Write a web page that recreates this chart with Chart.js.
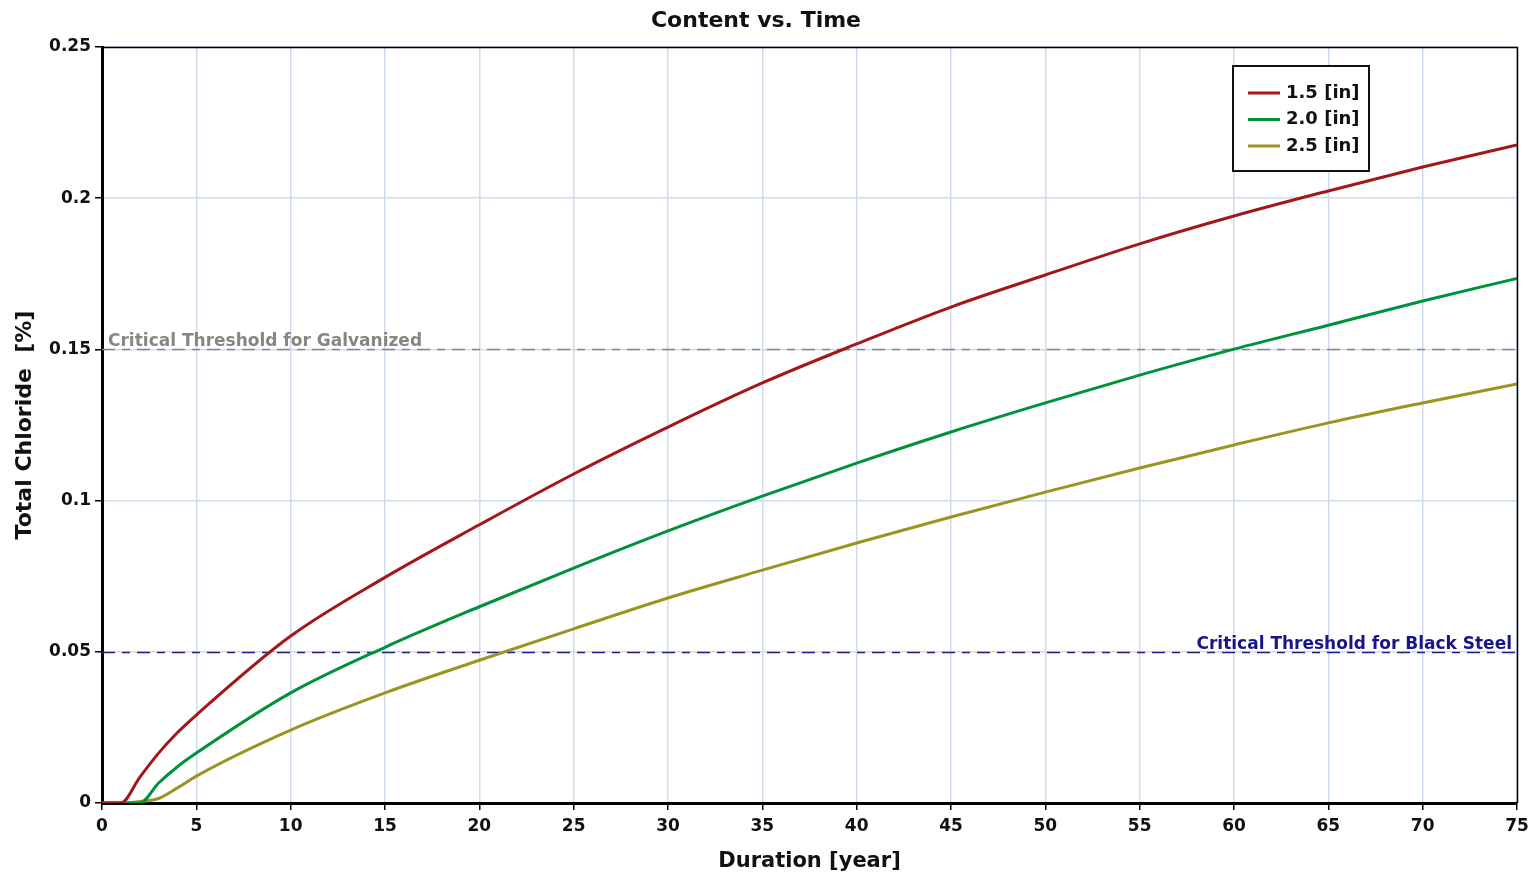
<!DOCTYPE html>
<html>
<head>
<meta charset="utf-8">
<script src="https://cdn.jsdelivr.net/npm/chart.js@4/dist/chart.umd.min.js"></script>
<style>
html,body{margin:0;padding:0;background:#fff;}
#wrap{width:1538px;height:878px;position:relative;}
</style>
</head>
<body>
<div id="wrap"><canvas id="c" width="1538" height="878"></canvas></div>
<script>
const years = [0,1,2,3,4,5,10,15,20,25,30,35,40,45,50,55,60,65,70,75];
const cover15 = [0,0,0.0085,0.0165,0.0233,0.0291,0.0552,0.0746,0.0920,0.1088,0.1243,0.1389,0.1518,0.1640,0.1746,0.1849,0.1941,0.2024,0.2103,0.2176];
const cover20 = [0,0,0,0.0066,0.0120,0.0165,0.0364,0.0515,0.0649,0.0777,0.0900,0.1015,0.1124,0.1227,0.1323,0.1415,0.1501,0.1580,0.1660,0.1735];
const cover25 = [0,0,0.0005,0.0015,0.0050,0.0089,0.0241,0.0364,0.0472,0.0576,0.0678,0.0770,0.0860,0.0946,0.1028,0.1108,0.1184,0.1257,0.1323,0.1386];
const seriesLabels = ['1.5 [in]','2.0 [in]','2.5 [in]'];
const thresholdGalvanized = 0.15;
const thresholdBlackSteel = 0.05;
const thresholdLabels = ['Critical Threshold for Galvanized','Critical Threshold for Black Steel'];
const xTicks = [0,5,10,15,20,25,30,35,40,45,50,55,60,65,70,75];
const yTicks = [0,0.05,0.1,0.15,0.2,0.25];

const FONT = '"DejaVu Sans", "Liberation Sans", sans-serif';
const colors = ['#a3161a','#00923a','#9c9420'];

function pts(xs, ys){ return xs.map((x,i)=>({x:x,y:ys[i]})); }

const thresholdAndDecor = {
  id:'decor',
  beforeDatasetsDraw(chart){
    const {ctx, chartArea:a, scales:{x,y}} = chart;
    ctx.save();
    ctx.lineWidth = 1.6;
    ctx.setLineDash([13,7,8,7]);
    ctx.strokeStyle = '#8a8580';
    let yy = Math.round(y.getPixelForValue(thresholdGalvanized))+0.5;
    ctx.beginPath(); ctx.moveTo(a.left, yy); ctx.lineTo(a.right, yy); ctx.stroke();
    ctx.strokeStyle = '#1c1c8a';
    yy = Math.round(y.getPixelForValue(thresholdBlackSteel))+0.5;
    ctx.beginPath(); ctx.moveTo(a.left, yy); ctx.lineTo(a.right, yy); ctx.stroke();
    ctx.restore();
    ctx.save();
    ctx.font = 'bold 17px ' + FONT;
    ctx.textBaseline = 'alphabetic';
    ctx.fillStyle = '#8a8580';
    ctx.textAlign = 'left';
    ctx.fillText(thresholdLabels[0], a.left + 6, y.getPixelForValue(thresholdGalvanized) - 3);
    ctx.fillStyle = '#16168a';
    ctx.textAlign = 'right';
    ctx.fillText(thresholdLabels[1], a.right - 5, y.getPixelForValue(thresholdBlackSteel) - 3);
    ctx.restore();
  },
  afterDraw(chart){
    const {ctx, chartArea:a} = chart;
    ctx.save();
    ctx.strokeStyle = '#000';
    ctx.lineWidth = 1.5;
    ctx.beginPath();
    ctx.moveTo(a.left, a.top+0.5); ctx.lineTo(a.right+0.5, a.top+0.5); ctx.lineTo(a.right+0.5, a.bottom);
    ctx.stroke();
    ctx.fillStyle = '#111';
    ctx.font = 'bold 22px ' + FONT;
    ctx.textAlign = 'center';
    ctx.textBaseline = 'middle';
    ctx.fillText('Content vs. Time', 756, 21);
    const bx = a.right - 284, by = a.top + 19, bw = 136, bh = 105;
    ctx.fillStyle = '#fff';
    ctx.fillRect(bx, by, bw, bh);
    ctx.lineWidth = 2;
    ctx.strokeStyle = '#111';
    ctx.strokeRect(bx, by, bw, bh);
    ctx.font = 'bold 18px ' + FONT;
    ctx.textAlign = 'left';
    ctx.textBaseline = 'middle';
    chart.data.datasets.forEach((ds,i)=>{
      if(!ds.inLegend) return;
      const ly = by + 27 + ds.legendIndex*26.5;
      ctx.strokeStyle = ds.borderColor;
      ctx.lineWidth = 3;
      ctx.beginPath(); ctx.moveTo(bx+15, ly); ctx.lineTo(bx+47, ly); ctx.stroke();
      ctx.fillStyle = '#111';
      ctx.fillText(ds.label, bx+53, ly);
    });
    ctx.restore();
  }
};

new Chart(document.getElementById('c'), {
  type:'line',
  data:{
    datasets:[
      {label:seriesLabels[0], data:pts(years,cover15), borderColor:colors[0], inLegend:true, legendIndex:0},
      {label:seriesLabels[1], data:pts(years,cover20), borderColor:colors[1], inLegend:true, legendIndex:1},
      {label:seriesLabels[2], data:pts(years,cover25), borderColor:colors[2], inLegend:true, legendIndex:2}
    ].map(d=>Object.assign(d,{borderWidth:3, pointRadius:0, fill:false, cubicInterpolationMode:'monotone'}))
  },
  options:{
    responsive:false,
    animation:false,
    devicePixelRatio:1,
    layout:{padding:{top:47, right:21, left:0, bottom:0}},
    plugins:{legend:{display:false}, title:{display:false}, tooltip:{enabled:false}},
    scales:{
      x:{
        type:'linear', min:0, max:75,
        afterBuildTicks(s){ s.ticks = xTicks.map(v=>({value:v})); },
        afterFit(s){ s.height = 75; },
        grid:{color:'#cddcee', lineWidth:1.5, tickColor:'#000', tickLength:7, tickWidth:1.5, drawOnChartArea:true},
        border:{color:'#000', width:3},
        ticks:{color:'#111', font:{family:FONT, weight:'bold', size:17}, padding:6, maxRotation:0, autoSkip:false},
        title:{display:true, text:'Duration [year]', color:'#111', font:{family:FONT, weight:'bold', size:21}, padding:{top:4,bottom:4}}
      },
      y:{
        type:'linear', min:0, max:0.25,
        afterBuildTicks(s){ s.ticks = yTicks.map(v=>({value:v})); },
        afterFit(s){ s.width = 102; },
        grid:{color:'#cddcee', lineWidth:1.5, tickColor:'#000', tickLength:7, tickWidth:1.5},
        border:{color:'#000', width:3},
        ticks:{color:'#111', font:{family:FONT, weight:'bold', size:17}, padding:4, callback:(v)=>String(v)},
        title:{display:true, text:'Total Chloride  [%]', color:'#111', font:{family:FONT, weight:'bold', size:22}, padding:{top:12,bottom:0}}
      }
    }
  },
  plugins:[thresholdAndDecor]
});
</script>
</body>
</html>
